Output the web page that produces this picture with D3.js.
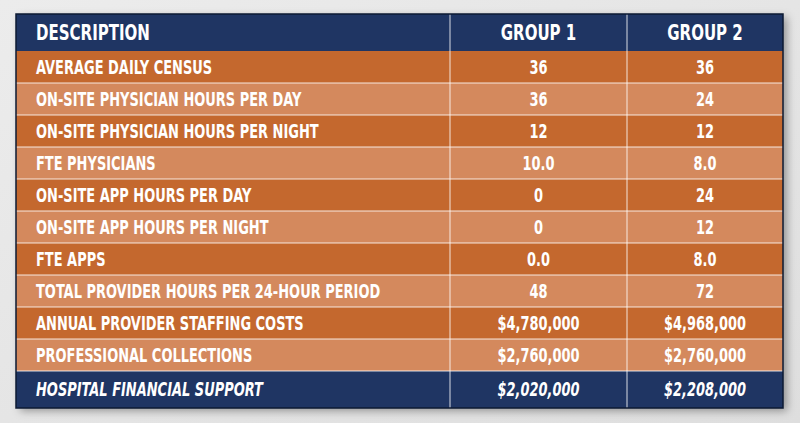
<!DOCTYPE html>
<html><head><meta charset="utf-8">
<script src="https://cdn.jsdelivr.net/npm/d3@7"></script>
<style>body{margin:0;background:#e6e6e6}</style></head>
<body><svg id="c" width="800" height="423"></svg>
<script>
const headers = ["DESCRIPTION","GROUP 1","GROUP 2"];
const descriptions = ["AVERAGE DAILY CENSUS","ON-SITE PHYSICIAN HOURS PER DAY","ON-SITE PHYSICIAN HOURS PER NIGHT","FTE PHYSICIANS","ON-SITE APP HOURS PER DAY","ON-SITE APP HOURS PER NIGHT","FTE APPS","TOTAL PROVIDER HOURS PER 24-HOUR PERIOD","ANNUAL PROVIDER STAFFING COSTS","PROFESSIONAL COLLECTIONS","HOSPITAL FINANCIAL SUPPORT"];
const group1 = ["36","36","12","10.0","0","0","0.0","48","$4,780,000","$2,760,000","$2,020,000"];
const group2 = ["36","24","12","8.0","24","12","8.0","72","$4,968,000","$2,760,000","$2,208,000"];

const svg = d3.select("#c");
const defs = svg.append("defs");
const bg = defs.append("linearGradient").attr("id","bg").attr("x1",0).attr("x2",1).attr("y1",0).attr("y2",1);
bg.append("stop").attr("offset",0).attr("stop-color","#ececec");
bg.append("stop").attr("offset",1).attr("stop-color","#dedede");
svg.append("rect").attr("width",800).attr("height",423).attr("fill","url(#bg)");
const f = defs.append("filter").attr("id","sh").attr("x",-0.05).attr("y",-0.05).attr("width",1.1).attr("height",1.1);
f.append("feDropShadow").attr("dx",4).attr("dy",3).attr("stdDeviation",4).attr("flood-color","#000").attr("flood-opacity",0.35);

const L=16,R=783,T=14,B=408, H0=37;
const colX=[L,450,627,R];
const y = d3.scaleBand().domain(d3.range(10)).range([T+H0,B-H0]);
const font = "'DejaVu Sans Condensed','DejaVu Sans',sans-serif";
const g = svg.append("g");
g.append("rect").attr("x",L).attr("y",T).attr("width",R-L).attr("height",B-T).attr("fill","#1f3563").attr("filter","url(#sh)");

function rowY(i){ return i<0?T: i<10? y(i): B-H0; }
function rowH(i){ return (i<0||i>=10)?H0:y.bandwidth(); }
const SX=0.76;
const rows=[-1].concat(d3.range(11));
rows.forEach(i=>{
  const fill = (i<0||i===10)?"#1f3563":(i%2===0?"#c4682e":"#d4895d");
  g.append("rect").attr("x",L).attr("y",rowY(i)).attr("width",R-L).attr("height",rowH(i)).attr("fill",fill);
  const texts = i<0?headers:[descriptions[i],group1[i],group2[i]];
  texts.forEach((t,c)=>{
    const x = c===0?36:(colX[c]+colX[c+1])/2;
    g.append("text").attr("transform",`translate(${x},${rowY(i)+rowH(i)/2}) scale(${SX},1)`)
     .attr("dy","0.36em")
     .attr("text-anchor", c===0?"start":"middle")
     .attr("font-family",font).attr("font-weight","bold")
     .attr("font-size", i<0?22:19)
     .attr("font-style", i===10?"italic":"normal")
     .attr("fill","#fff").text(t);
  });
});
const gl = "rgba(255,255,255,0.55)";
d3.range(1,11).forEach(i=>{
  g.append("line").attr("x1",L).attr("x2",R).attr("y1",rowY(i)).attr("y2",rowY(i)).attr("stroke",gl).attr("stroke-width",1.5);
});
[1,2].forEach(c=>g.append("line").attr("x1",colX[c]).attr("x2",colX[c]).attr("y1",T).attr("y2",B).attr("stroke",gl).attr("stroke-width",1.5));
g.append("rect").attr("x",L).attr("y",T).attr("width",R-L).attr("height",B-T).attr("fill","none").attr("stroke","#0d1a33").attr("stroke-width",1.5);
</script></body></html>
